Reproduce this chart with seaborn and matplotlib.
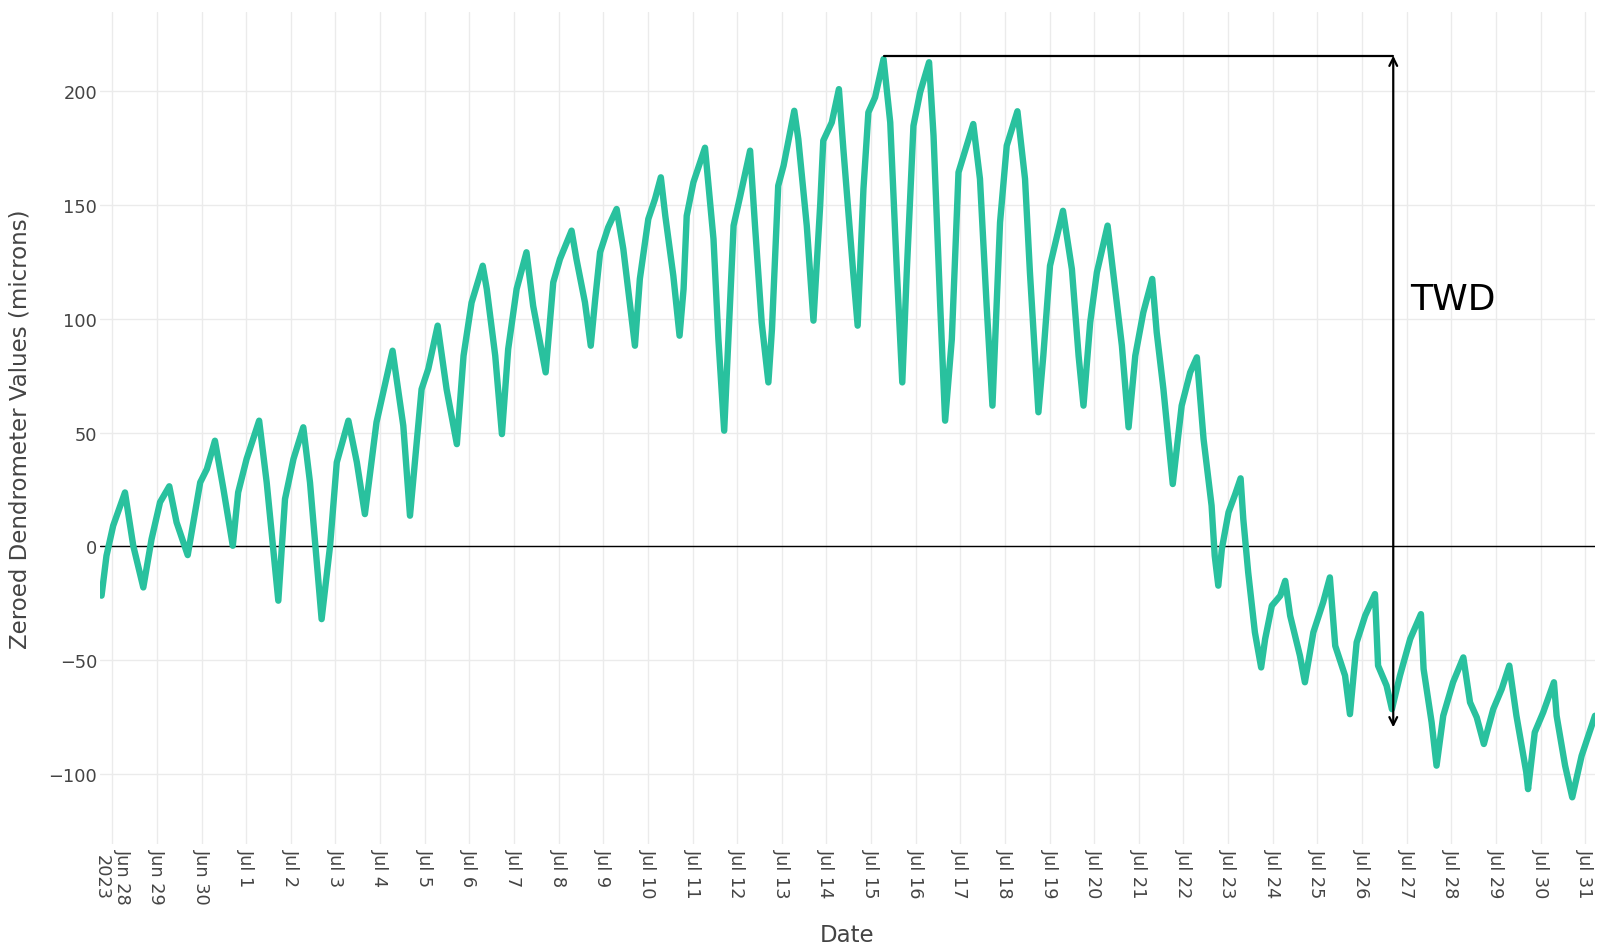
import numpy as np
import pandas as pd
import seaborn as sns
import matplotlib
matplotlib.use("Agg")
import matplotlib.pyplot as plt
import matplotlib.dates as mdates

# dendrometer readings (turning points)
times = [
    "2023-06-27 18:14", "2023-06-27 20:53", "2023-06-28 00:29", "2023-06-28 06:50", "2023-06-28 11:17",
    "2023-06-28 16:41", "2023-06-28 21:07", "2023-06-29 01:41", "2023-06-29 06:39", "2023-06-29 10:34",
    "2023-06-29 16:34", "2023-06-29 23:17", "2023-06-30 02:53", "2023-06-30 07:12", "2023-06-30 11:46",
    "2023-06-30 16:48", "2023-06-30 19:41", "2023-07-01 00:14", "2023-07-01 06:58", "2023-07-01 11:02",
    "2023-07-01 17:17", "2023-07-01 20:53", "2023-07-02 01:26", "2023-07-02 06:43", "2023-07-02 10:19",
    "2023-07-02 16:34", "2023-07-02 21:07", "2023-07-03 00:43", "2023-07-03 06:58", "2023-07-03 11:31",
    "2023-07-03 15:50", "2023-07-03 22:05", "2023-07-04 06:43", "2023-07-04 12:29", "2023-07-04 16:05",
    "2023-07-04 22:19", "2023-07-05 01:55", "2023-07-05 06:58", "2023-07-05 11:46", "2023-07-05 17:17",
    "2023-07-05 20:53", "2023-07-06 01:12", "2023-07-06 07:12", "2023-07-06 09:22", "2023-07-06 13:55",
    "2023-07-06 17:31", "2023-07-06 20:53", "2023-07-07 01:26", "2023-07-07 06:43", "2023-07-07 10:19",
    "2023-07-07 17:02", "2023-07-07 21:07", "2023-07-08 00:43", "2023-07-08 06:58", "2023-07-08 09:36",
    "2023-07-08 14:10", "2023-07-08 17:17", "2023-07-08 19:41", "2023-07-08 22:19", "2023-07-09 02:38",
    "2023-07-09 07:12", "2023-07-09 10:48", "2023-07-09 17:02", "2023-07-09 19:41", "2023-07-10 00:14",
    "2023-07-10 03:50", "2023-07-10 06:58", "2023-07-10 09:22", "2023-07-10 13:41", "2023-07-10 17:02",
    "2023-07-10 19:12", "2023-07-10 20:53", "2023-07-11 00:29", "2023-07-11 06:43", "2023-07-11 11:17",
    "2023-07-11 13:55", "2023-07-11 17:02", "2023-07-11 22:05", "2023-07-12 01:41", "2023-07-12 06:58",
    "2023-07-12 09:36", "2023-07-12 13:12", "2023-07-12 16:48", "2023-07-12 18:43", "2023-07-12 22:05",
    "2023-07-13 00:58", "2023-07-13 06:43", "2023-07-13 08:53", "2023-07-13 13:26", "2023-07-13 17:02",
    "2023-07-13 20:38", "2023-07-13 22:19", "2023-07-14 02:53", "2023-07-14 06:43", "2023-07-14 09:07",
    "2023-07-14 14:24", "2023-07-14 16:48", "2023-07-14 19:55", "2023-07-14 22:34", "2023-07-15 02:10",
    "2023-07-15 06:43", "2023-07-15 10:19", "2023-07-15 13:55", "2023-07-15 16:48", "2023-07-15 19:12",
    "2023-07-15 22:48", "2023-07-16 02:24", "2023-07-16 07:12", "2023-07-16 09:36", "2023-07-16 13:12",
    "2023-07-16 15:50", "2023-07-16 19:26", "2023-07-16 23:02", "2023-07-17 06:58", "2023-07-17 10:34",
    "2023-07-17 14:10", "2023-07-17 17:17", "2023-07-17 21:22", "2023-07-18 00:58", "2023-07-18 06:43",
    "2023-07-18 10:48", "2023-07-18 13:26", "2023-07-18 18:00", "2023-07-18 20:38", "2023-07-19 00:14",
    "2023-07-19 07:12", "2023-07-19 12:00", "2023-07-19 15:36", "2023-07-19 18:14", "2023-07-19 21:50",
    "2023-07-20 01:26", "2023-07-20 07:12", "2023-07-20 11:17", "2023-07-20 14:53", "2023-07-20 18:29",
    "2023-07-20 22:05", "2023-07-21 02:24", "2023-07-21 07:12", "2023-07-21 09:36", "2023-07-21 13:12",
    "2023-07-21 18:14", "2023-07-21 23:02", "2023-07-22 03:36", "2023-07-22 07:12", "2023-07-22 10:48",
    "2023-07-22 15:07", "2023-07-22 16:48", "2023-07-22 18:43", "2023-07-22 20:38", "2023-07-23 00:14",
    "2023-07-23 03:50", "2023-07-23 06:43", "2023-07-23 08:10", "2023-07-23 10:48", "2023-07-23 14:24",
    "2023-07-23 17:46", "2023-07-23 19:55", "2023-07-23 23:31", "2023-07-24 04:05", "2023-07-24 06:43",
    "2023-07-24 09:22", "2023-07-24 14:38", "2023-07-24 17:17", "2023-07-24 21:50", "2023-07-25 03:07",
    "2023-07-25 06:43", "2023-07-25 09:36", "2023-07-25 14:53", "2023-07-25 17:31", "2023-07-25 21:07",
    "2023-07-26 01:41", "2023-07-26 06:58", "2023-07-26 08:38", "2023-07-26 13:12", "2023-07-26 16:05",
    "2023-07-26 20:24", "2023-07-27 01:55", "2023-07-27 07:41", "2023-07-27 09:07", "2023-07-27 13:26",
    "2023-07-27 16:05", "2023-07-27 19:41", "2023-07-28 00:58", "2023-07-28 06:29", "2023-07-28 10:05",
    "2023-07-28 13:41", "2023-07-28 17:31", "2023-07-28 22:34", "2023-07-29 03:07", "2023-07-29 07:12",
    "2023-07-29 11:02", "2023-07-29 16:19", "2023-07-29 17:17", "2023-07-29 20:53", "2023-07-30 01:26",
    "2023-07-30 07:12", "2023-07-30 08:38", "2023-07-30 13:12", "2023-07-30 17:02", "2023-07-30 22:05",
    "2023-07-31 05:17",
]
values = [
    -21.6, -4.1, 9.1, 23.7, 0.3,
    -18.0, 3.2, 19.4, 26.4, 10.6,
    -3.8, 28.1, 34.0, 46.4, 25.2,
    0.3, 23.7, 38.4, 55.2, 28.1,
    -23.8, 20.8, 38.4, 52.3, 28.1,
    -31.9, 0.3, 36.9, 55.2, 36.9,
    14.2, 54.5, 85.9, 53.0, 13.5,
    69.0, 77.9, 96.9, 69.0, 44.9,
    83.7, 107.0, 123.2, 113.0, 83.7,
    49.3, 86.6, 113.0, 129.1, 105.6,
    76.4, 115.9, 126.1, 138.6, 126.1,
    107.1, 88.1, 108.6, 129.1, 140.0,
    148.1, 130.5, 88.1, 117.4, 143.7,
    152.5, 162.0, 145.1, 118.8, 92.5,
    113.0, 145.1, 159.8, 175.0, 134.9,
    91.0, 50.8, 140.8, 153.9, 173.7,
    140.8, 98.3, 72.0, 95.4, 158.3,
    167.1, 191.2, 178.8, 140.8, 99.1,
    149.5, 178.1, 186.1, 200.7, 174.4,
    120.3, 96.9, 156.9, 190.5, 197.1,
    213.9, 186.1, 120.3, 72.0, 120.3,
    184.6, 199.3, 212.5, 180.3, 105.6,
    55.2, 91.0, 164.2, 185.4, 161.3,
    105.6, 61.8, 142.2, 175.9, 191.0,
    161.3, 120.3, 58.9, 83.7, 123.2,
    147.3, 121.7, 83.7, 61.8, 98.3,
    120.3, 140.8, 113.0, 88.1, 52.3,
    83.7, 102.7, 117.4, 94.0, 69.1,
    27.4, 61.8, 76.4, 83.0, 47.1,
    17.9, -4.1, -17.2, -1.1, 15.0,
    23.0, 29.9, 12.0, -11.4, -37.7,
    -53.1, -40.6, -26.0, -21.6, -15.1,
    -30.4, -48.0, -59.6, -37.7, -24.5,
    -13.6, -43.6, -56.7, -73.6, -42.1,
    -30.4, -20.9, -52.3, -61.1, -71.4,
    -56.7, -40.6, -29.7, -53.8, -77.2,
    -96.2, -74.3, -59.6, -48.7, -68.4,
    -75.0, -86.7, -71.4, -62.6, -52.3,
    -74.3, -99.1, -106.5, -81.6, -72.8,
    -59.6, -74.3, -96.2, -110.1, -91.9,
    -74.3,
]

# TWD annotation
twd_from = "2023-07-15 06:43"
twd_at = "2023-07-26 16:48"
twd_top = 215.4
twd_bottom = -79.4
twd_label = "TWD"

y_ticks = [-100, -50, 0, 50, 100, 150, 200]
x_start = "2023-06-27 17:22"
x_end = "2023-07-31 05:17"

df = pd.DataFrame({"Date": pd.to_datetime(times), "value": values})

sns.set_theme(style="whitegrid")
plt.rcParams['font.family'] = ['DejaVu Sans']

fig = plt.figure(figsize=(15.99, 9.53), dpi=100)
ax = fig.add_axes([0.0625, 0.1133, 0.935, 0.8734])
ax.set_facecolor("white")

sns.lineplot(data=df, x="Date", y="value", ax=ax, color="#29c19e",
             linewidth=4.6, solid_joinstyle="round", solid_capstyle="round")

ax.axhline(0, color="black", lw=1.0, zorder=1)

# TWD bracket
t_from = pd.Timestamp(twd_from)
t_at = pd.Timestamp(twd_at)
ax.plot([t_from, t_at], [twd_top, twd_top], color="black", lw=1.6)
ax.annotate("", xy=(t_at, twd_bottom), xytext=(t_at, twd_top),
            arrowprops=dict(arrowstyle="<->", color="black", lw=1.6,
                            mutation_scale=14, shrinkA=0, shrinkB=0))
ax.text(t_at + pd.Timedelta(hours=9), 108.6, twd_label, fontsize=26,
        color="black", va="center", ha="left")

# axes
ax.set_xlim(pd.Timestamp(x_start), pd.Timestamp(x_end))
ax.set_ylim(-130.6, 234.7)
ax.set_yticks(y_ticks)
ax.set_yticklabels([str(v).replace("-", "\u2212") for v in y_ticks])

tick_days = pd.date_range("2023-06-28", "2023-07-31", freq="D")
tick_labels = [d.strftime("%b ") + str(d.day) for d in tick_days]
tick_labels[0] = tick_labels[0] + "\n2023"
ax.set_xticks(tick_days)
ax.set_xticklabels(tick_labels, rotation=-90, ha="center", va="top")

ax.grid(True, color="#ebebeb", lw=1.0)
for s in ax.spines.values():
    s.set_visible(False)
ax.tick_params(axis="both", length=0, labelsize=12.8, colors="#444444")
ax.tick_params(axis="x", pad=3)
ax.tick_params(axis="y", pad=2)

ax.set_xlabel("Date", fontsize=16.5, color="#444444", labelpad=14)
ax.set_ylabel("Zeroed Dendrometer Values (microns)", fontsize=16.5,
              color="#444444", labelpad=12)

plt.savefig("out.png", dpi=100)
